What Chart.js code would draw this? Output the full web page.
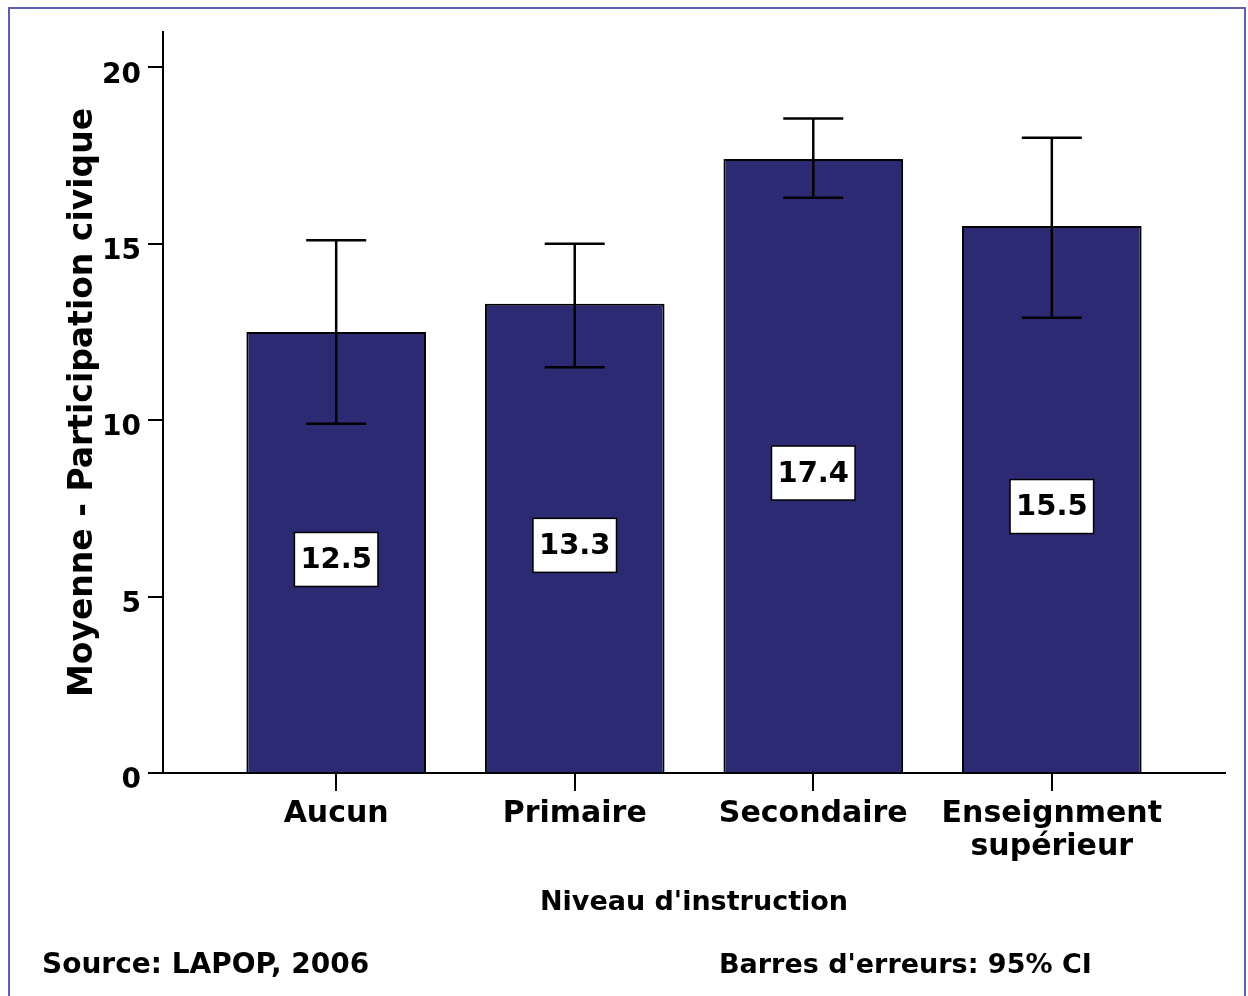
<!DOCTYPE html>
<html>
<head>
<meta charset="utf-8">
<title>Participation civique</title>
<script src="https://cdn.jsdelivr.net/npm/chart.js@4/dist/chart.umd.min.js"></script>
<style>
  html, body { margin: 0; padding: 0; background: #fff; }
  #wrap { width: 1248px; height: 996px; }
</style>
</head>
<body>
<div id="wrap"><canvas id="chart" width="1248" height="996"></canvas></div>
<script>
// Data
const categories = ['Aucun', 'Primaire', 'Secondaire', ['Enseignment', 'supérieur']];
const means = [12.5, 13.3, 17.4, 15.5];
const ciLow = [9.9, 11.5, 16.3, 12.9];
const ciHigh = [15.1, 15.0, 18.55, 18.0];
const yTicks = [0, 5, 10, 15, 20];

const FONT = "'DejaVu Sans', sans-serif";

// Frame around the picture plus the two footer notes
const framePlugin = {
    id: 'frame',
    afterDraw(chart) {
        const ctx = chart.ctx;
        ctx.save();
        ctx.strokeStyle = '#5e5eb2';
        ctx.lineWidth = 2;
        ctx.strokeRect(9, 8, 1236, 1000);
        ctx.fillStyle = '#000';
        ctx.textBaseline = 'alphabetic';
        ctx.textAlign = 'left';
        ctx.font = 'bold 28px ' + FONT;
        ctx.fillText('Source: LAPOP, 2006', 42, 973);
        ctx.font = 'bold 27px ' + FONT;
        ctx.fillText("Barres d'erreurs: 95% CI", 719, 973);
        ctx.restore();
    }
};

// Error bars (95% CI) and the boxed mean labels
const errorBarPlugin = {
    id: 'errorBars',
    afterDatasetsDraw(chart) {
        const ctx = chart.ctx;
        const xs = chart.scales.x;
        const ys = chart.scales.y;
        ctx.save();
        ctx.strokeStyle = '#000';
        ctx.lineWidth = 2.5;
        means.forEach((m, i) => {
            const x = xs.getPixelForValue(i);
            const yLo = ys.getPixelForValue(ciLow[i]);
            const yHi = ys.getPixelForValue(ciHigh[i]);
            ctx.beginPath();
            ctx.moveTo(x, yLo);
            ctx.lineTo(x, yHi);
            ctx.moveTo(x - 30, yHi);
            ctx.lineTo(x + 30, yHi);
            ctx.moveTo(x - 30, yLo);
            ctx.lineTo(x + 30, yLo);
            ctx.stroke();
        });

        ctx.font = 'bold 29px ' + FONT;
        ctx.textAlign = 'center';
        ctx.textBaseline = 'middle';
        means.forEach((m, i) => {
            const label = m.toFixed(1);
            const x = xs.getPixelForValue(i);
            const y = (ys.getPixelForValue(m) + ys.getPixelForValue(0)) / 2 + 7;
            const w = ctx.measureText(label).width + 12;
            const h = 54;
            ctx.fillStyle = '#fff';
            ctx.fillRect(x - w / 2, y - h / 2, w, h);
            ctx.lineWidth = 1.5;
            ctx.strokeStyle = '#000';
            ctx.strokeRect(x - w / 2, y - h / 2, w, h);
            ctx.fillStyle = '#000';
            ctx.fillText(label, x, y + 1);
        });
        ctx.restore();
    }
};

const ctx = document.getElementById('chart').getContext('2d');
new Chart(ctx, {
    type: 'bar',
    data: {
        datasets: [{
            data: means.map((v, i) => ({ x: i, y: v })),
            backgroundColor: '#2b2a73',
            borderColor: '#000',
            borderWidth: 2,
            barPercentage: 0.753,
            categoryPercentage: 1
        }]
    },
    options: {
        responsive: false,
        animation: false,
        layout: { padding: { left: 64, top: 32, right: 23, bottom: 77 } },
        plugins: {
            legend: { display: false },
            tooltip: { enabled: false }
        },
        scales: {
            x: {
                type: 'linear',
                min: -0.726,
                max: 3.726,
                offset: false,
                afterBuildTicks: scale => { scale.ticks = categories.map((c, i) => ({ value: i })); },
                afterFit: scale => { scale.height = 146; },
                grid: {
                    offset: false,
                    drawOnChartArea: false,
                    drawTicks: true,
                    tickLength: 18,
                    color: '#000',
                    lineWidth: 2
                },
                border: { display: true, color: '#000', width: 2 },
                ticks: {
                    autoSkip: false,
                    maxRotation: 0,
                    padding: 7,
                    color: '#000',
                    font: { family: FONT, size: 30, weight: 'bold', lineHeight: 1.1 },
                    callback: v => categories[v]
                },
                title: {
                    display: true,
                    text: "Niveau d'instruction",
                    color: '#000',
                    padding: 0,
                    font: { family: FONT, size: 27, weight: 'bold' }
                }
            },
            y: {
                min: 0,
                max: 21,
                afterBuildTicks: scale => { scale.ticks = yTicks.map(v => ({ value: v })); },
                afterFit: scale => { scale.width = 99; },
                grid: {
                    drawOnChartArea: false,
                    drawTicks: true,
                    tickLength: 15,
                    color: '#000',
                    lineWidth: 2
                },
                border: { display: true, color: '#000', width: 2 },
                ticks: {
                    padding: 7,
                    labelOffset: 8,
                    color: '#000',
                    font: { family: FONT, size: 28, weight: 'bold' }
                },
                title: {
                    display: true,
                    text: 'Moyenne - Participation civique',
                    color: '#000',
                    padding: 0,
                    font: { family: FONT, size: 33, weight: 'bold' }
                }
            }
        }
    },
    plugins: [errorBarPlugin, framePlugin]
});
</script>
</body>
</html>
